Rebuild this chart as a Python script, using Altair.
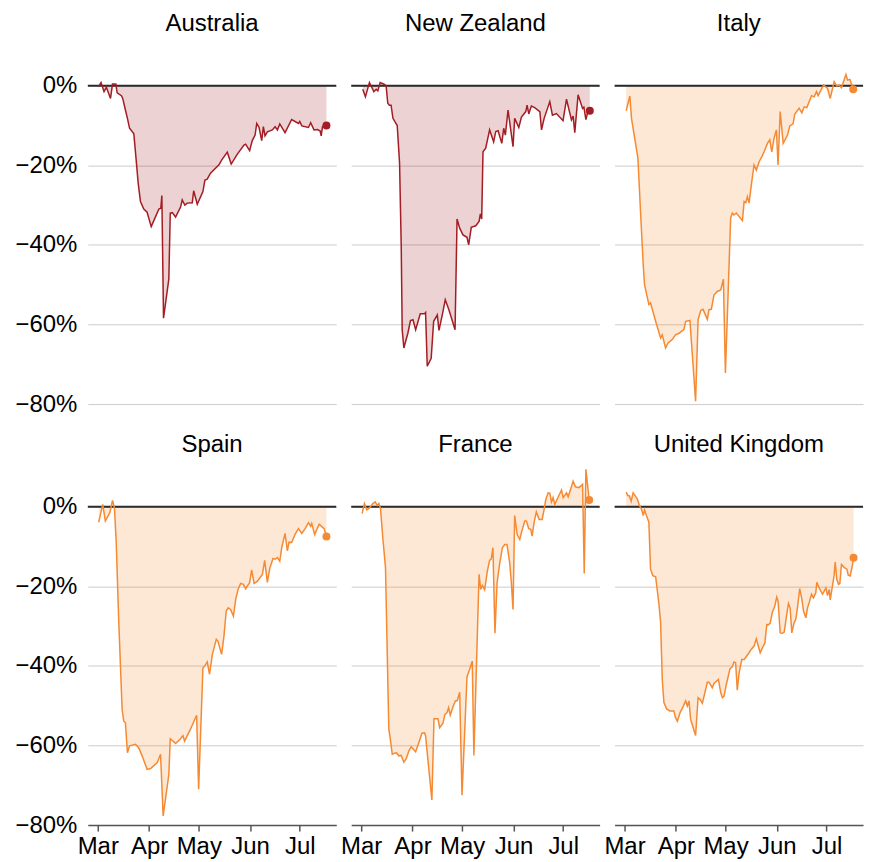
import altair as alt
import pandas as pd

COUNTRIES = ["Australia", "New Zealand", "Italy", "Spain", "France", "United Kingdom"]
COLORS = ["#a31d24", "#a31d24", "#f58a33", "#f58a33", "#f58a33", "#f58a33"]
MONTH_TICKS = [3, 4, 5, 6, 7]
Y_TICKS = [0, -0.2, -0.4, -0.6, -0.8]

# (days after 1 March 2020, % change)
AUS = [(0.6,-0.2),(2.0,0.8),(3.8,-1.5),(5.2,-0.4),(7.7,-3.2),(8.9,0.4),(10.9,0.4),(11.7,-1.8),
       (14.3,-2.5),(15.1,-3.2),(16.7,-6.1),(17.9,-8.2),(19.2,-10.7),(21.8,-12.1),(23.2,-18.7),
       (24.4,-24.5),(25.8,-29.1),(27.8,-31.0),(29.8,-31.8),(32.3,-35.4),(34.9,-32.9),(36.9,-31.0),
       (38.1,-30.8),(38.7,-27.6),(39.7,-58.4),(42.9,-48.6),(43.8,-32.0),(45.0,-31.9),(47.0,-33.0),
       (50.0,-30.5),(51.0,-28.7),(52.6,-30.0),(54.0,-29.5),(57.1,-29.4),(57.9,-26.4),(60.1,-29.8),
       (63.5,-26.6),(64.7,-23.7),(66.1,-23.5),(68.1,-22.0),(73.2,-19.9),(74.8,-18.7),(78.2,-16.7),
       (80.6,-19.7),(84.3,-17.2),(88.3,-14.9),(89.3,-14.7),(91.7,-16.3),(93.3,-13.8),(95.0,-12.4),
       (96.0,-9.5),(97.4,-10.5),(99.0,-13.8),(100.0,-10.3),(101.0,-12.6),(102.4,-11.6),(105.4,-11.1),
       (107.1,-10.3),(108.5,-11.1),(109.9,-9.6),(113.1,-11.8),(117.1,-8.5),(121.2,-9.5),(122.0,-9.0),
       (123.2,-10.1),(127.2,-10.5),(128.6,-9.3),(130.6,-11.1),(132.7,-11.0),(134.3,-11.4),
       (134.9,-12.6),(135.7,-10.3),(138.1,-10.0)]

NZL = [(1.0,-0.9),(2.6,-2.8),(5.0,0.8),(7.7,-1.5),(9.1,-0.9),(10.1,-1.3),(11.5,0.8),(14.1,0.3),
       (15.1,0.0),(16.1,-4.4),(17.1,-4.9),(18.1,-4.9),(19.2,-8.2),(21.8,-10.0),(23.2,-19.5),
       (24.2,-40.4),(24.8,-61.3),(25.8,-65.9),(28.2,-62.2),(29.8,-59.0),(31.3,-58.8),(32.9,-61.3),
       (35.7,-57.3),(38.3,-57.3),(38.9,-57.0),(39.9,-70.5),(42.3,-68.5),(43.8,-59.2),(46.0,-57.6),
       (47.0,-61.5),(49.0,-57.6),(50.8,-53.8),(53.0,-56.3),(56.7,-61.3),(57.9,-33.5),(59.5,-35.8),
       (61.5,-37.5),(63.9,-38.1),(64.9,-40.0),(66.5,-35.6),(69.2,-35.2),(71.2,-34.1),(72.0,-32.2),
       (72.8,-33.5),(73.6,-16.6),(75.2,-15.7),(77.6,-11.1),(80.0,-14.1),(81.3,-11.5),(82.7,-11.3),
       (84.9,-14.5),(86.1,-10.7),(87.1,-12.4),(88.7,-6.1),(91.7,-15.3),(92.7,-8.2),(95.2,-10.5),
       (96.8,-7.9),(99.4,-6.5),(100.2,-4.9),(101.2,-7.1),(102.8,-5.1),(104.8,-5.5),(107.9,-6.5),
       (108.9,-11.1),(110.5,-8.2),(113.9,-4.0),(115.5,-7.4),(117.9,-7.0),(121.9,-8.8),(124.0,-3.4),
       (127.0,-8.6),(128.0,-7.6),(129.0,-11.8),(131.0,-2.3),(133.7,-5.7),(134.5,-5.4),(135.7,-8.5),
       (136.7,-6.9),(138.1,-6.3)]

ITA = [(1.0,-6.3),(3.2,-2.6),(4.2,-8.2),(8.1,-18.2),(9.7,-32.0),(11.3,-45.0),(12.1,-50.0),
       (14.7,-55.0),(15.7,-54.6),(18.8,-59.2),(21.8,-63.4),(22.8,-62.6),(24.8,-65.9),(26.2,-64.7),
       (28.8,-63.8),(30.8,-62.6),(32.9,-62.2),(35.9,-61.2),(36.9,-59.2),(39.5,-59.0),(42.9,-79.3),
       (44.4,-58.8),(46.0,-56.5),(47.4,-56.2),(50.0,-58.7),(51.0,-56.3),(52.4,-56.2),(54.0,-52.6),
       (56.0,-51.7),(58.1,-51.3),(59.7,-48.6),(60.9,-72.2),(64.1,-33.3),(65.1,-32.0),(66.1,-32.5),
       (67.5,-32.0),(71.2,-33.9),(72.2,-29.1),(73.2,-29.4),(74.2,-27.9),(75.2,-29.5),(76.6,-24.9),
       (78.2,-19.9),(79.6,-21.2),(81.3,-19.1),(82.9,-17.8),(84.3,-16.6),(86.3,-14.5),(87.7,-13.6),
       (88.9,-16.6),(90.3,-13.2),(91.7,-11.1),(92.7,-19.9),(94.0,-6.5),(95.8,-14.5),(98.4,-12.4),
       (99.8,-10.1),(101.8,-9.6),(102.8,-7.1),(105.4,-5.7),(107.1,-6.8),(108.5,-5.3),(110.1,-5.5),
       (112.9,-2.5),(114.5,-2.8),(115.9,-1.5),(116.9,-2.5),(120.2,0.2),(122.6,-0.7),(124.2,-3.2),
       (126.6,1.0),(128.2,-0.1),(129.6,0.2),(131.0,-0.5),(133.7,2.8),(134.7,1.4),(136.1,1.6),
       (138.1,-0.9)]

ESP = [(0.6,-3.9),(3.0,0.6),(4.6,-3.6),(7.3,-1.5),(8.9,1.6),(10.1,-0.3),(11.1,-8.2),(12.7,-29.1),
       (14.7,-50.9),(15.7,-53.9),(16.7,-54.3),(17.9,-61.8),(19.2,-60.1),(20.8,-59.9),(22.8,-59.7),
       (24.8,-60.6),(26.8,-62.6),(29.8,-66.0),(31.9,-65.8),(35.9,-64.3),(37.9,-62.2),(39.5,-77.7),
       (42.9,-67.3),(43.8,-58.3),(45.4,-58.9),(47.0,-59.5),(50.0,-58.3),(51.4,-57.5),(52.4,-58.9),
       (56.0,-55.9),(58.1,-53.9),(59.7,-52.4),(60.9,-71.0),(63.5,-40.5),(64.7,-40.0),(66.1,-39.0),
       (67.5,-42.1),(69.2,-37.1),(71.6,-33.3),(72.6,-33.8),(74.8,-37.1),(76.2,-32.5),(77.6,-26.2),
       (78.8,-25.4),(80.2,-25.8),(81.9,-27.5),(83.3,-23.3),(84.7,-20.8),(86.3,-19.3),(87.9,-19.5),
       (89.3,-20.6),(91.7,-19.1),(92.9,-15.9),(94.4,-19.3),(96.4,-18.7),(99.4,-17.0),(100.8,-13.5),
       (102.4,-19.0),(103.8,-15.6),(105.8,-13.0),(107.1,-13.2),(108.5,-12.8),(109.9,-13.7),
       (111.1,-10.3),(113.1,-6.7),(114.5,-11.1),(115.5,-8.9),(117.1,-9.0),(119.2,-6.9),(121.2,-5.5),
       (123.2,-6.7),(125.2,-5.5),(127.2,-4.0),(128.6,-4.9),(129.2,-4.2),(131.0,-7.0),(132.7,-5.3),
       (133.7,-4.4),(135.3,-5.0),(136.7,-5.5),(138.1,-7.5)]

FRA = [(0.6,-1.7),(2.0,0.8),(3.4,-0.8),(5.0,-0.3),(7.1,0.8),(8.5,1.2),(9.7,0.3),(10.7,0.8),
       (11.7,-0.5),(13.1,-7.8),(14.7,-15.3),(16.7,-55.9),(17.5,-58.0),(18.8,-62.2),(21.2,-61.8),
       (22.8,-62.6),(24.2,-62.5),(25.8,-64.2),(27.2,-63.3),(28.8,-61.4),(30.2,-60.3),(31.7,-61.0),
       (32.9,-61.6),(34.5,-59.7),(36.7,-56.9),(38.3,-56.8),(38.9,-57.6),(42.7,-73.7),(44.0,-53.3),
       (46.4,-53.3),(47.4,-55.5),(49.4,-54.4),(50.6,-52.2),(51.8,-51.8),(52.8,-50.5),(53.8,-52.4),
       (55.4,-50.3),(56.9,-48.8),(58.1,-48.7),(59.5,-46.6),(60.9,-72.5),(63.9,-42.7),(65.5,-40.9),
       (67.1,-38.8),(68.1,-62.5),(71.2,-17.0),(72.2,-20.8),(73.2,-19.8),(74.6,-20.9),(76.2,-16.2),
       (77.6,-13.5),(78.6,-13.1),(79.6,-10.3),(80.8,-31.8),(82.1,-19.1),(83.7,-14.1),(85.3,-10.3),
       (86.7,-9.5),(88.1,-9.5),(89.7,-14.1),(90.7,-19.1),(91.7,-25.8),(92.7,-2.2),(94.2,-7.0),
       (95.8,-8.2),(96.8,-6.5),(98.8,-3.6),(99.8,-3.6),(101.2,-5.5),(102.4,-5.7),(103.2,-7.4),
       (104.6,-3.6),(105.8,-1.3),(107.5,-3.2),(109.3,-3.2),(110.3,-1.1),(111.5,1.8),(112.9,3.5),
       (113.9,3.4),(114.9,1.2),(115.9,2.3),(116.9,0.6),(118.5,2.0),(121.0,4.2),(122.0,2.3),
       (124.0,3.5),(125.0,2.5),(126.6,4.5),(128.0,6.4),(129.4,5.0),(131.5,4.8),(133.7,5.6),
       (134.7,-16.8),(135.7,9.4),(137.7,1.7)]

GBR = [(1.0,3.7),(2.0,2.8),(3.0,2.7),(4.0,1.4),(5.2,3.5),(7.7,2.0),(8.7,0.6),(10.3,-0.7),
       (11.3,-2.2),(12.1,-0.8),(13.3,-2.3),(14.7,-3.9),(15.7,-15.7),(17.1,-17.3),(18.8,-17.6),
       (20.8,-24.5),(21.8,-29.1),(22.8,-43.4),(23.8,-49.2),(25.4,-50.8),(27.4,-51.3),(29.8,-51.3),
       (30.8,-53.0),(31.9,-53.9),(33.5,-51.8),(35.5,-50.1),(36.9,-48.8),(37.9,-50.1),(38.9,-48.8),
       (39.9,-53.4),(42.9,-57.5),(44.4,-48.0),(45.6,-48.4),(47.0,-49.4),(50.0,-44.1),(51.0,-44.1),
       (53.0,-45.5),(54.0,-44.4),(56.7,-43.4),(58.1,-46.7),(59.1,-48.0),(60.1,-47.6),(61.5,-44.6),
       (63.7,-40.7),(65.1,-40.2),(66.1,-39.0),(67.1,-39.2),(68.1,-46.1),(69.2,-41.7),(70.8,-38.4),
       (72.2,-38.4),(73.8,-37.5),(75.2,-36.7),(76.6,-35.8),(78.2,-35.0),(79.6,-33.2),(81.9,-36.7),
       (83.3,-35.4),(84.7,-34.3),(85.9,-29.6),(86.7,-29.7),(87.9,-29.3),(89.3,-26.5),(90.7,-25.0),
       (91.9,-22.7),(92.7,-23.7),(94.0,-31.7),(95.4,-31.8),(96.4,-31.5),(97.8,-27.5),(99.0,-24.3),
       (100.0,-25.4),(101.0,-31.7),(102.4,-29.1),(103.4,-28.3),(104.4,-25.4),(105.8,-20.6),
       (107.1,-23.3),(108.1,-26.2),(109.5,-27.9),(110.5,-25.4),(111.5,-24.1),(112.9,-22.0),
       (114.1,-22.9),(115.5,-21.6),(116.1,-19.0),(117.5,-20.4),(119.6,-22.0),(121.6,-20.4),
       (122.6,-22.3),(123.6,-20.8),(124.2,-23.4),(125.6,-19.8),(126.6,-17.2),(127.2,-13.9),
       (128.2,-18.3),(129.2,-19.5),(130.0,-19.3),(131.0,-14.5),(132.7,-15.3),(134.3,-15.7),
       (135.1,-17.2),(136.3,-17.4),(137.7,-14.5),(138.3,-12.8)]

SERIES = {"Australia": AUS, "New Zealand": NZL, "Italy": ITA,
          "Spain": ESP, "France": FRA, "United Kingdom": GBR}

START = pd.Timestamp("2020-03-01")


def frame(country):
    pts = SERIES[country]
    rows = []
    for i, (d, v) in enumerate(pts):
        t = START + pd.Timedelta(hours=round(d * 24))
        rows.append({"country": country,
                     "date": t.strftime("%Y-%m-%dT%H:%M:%S"),
                     "value": v / 100.0,
                     "last": i == len(pts) - 1})
    return pd.DataFrame(rows)


FONT = "Liberation Sans"
PANEL_W = 249
PANEL_H = 359
X_SCALE = alt.Scale(domain=[alt.DateTime(year=2020, month=2, date=24),
                            alt.DateTime(year=2020, month=7, date=23)])
Y_SCALE = alt.Scale(domain=[-0.8, 0.1], nice=False, zero=False)


def panel(idx):
    country = COUNTRIES[idx]
    color = COLORS[idx]
    col, row = idx % 3, idx // 3
    if row == 1:
        x_axis = alt.Axis(values=[alt.DateTime(year=2020, month=m, date=1) for m in MONTH_TICKS],
                          format="%b", title=None, grid=False, domainColor="#555",
                          domainWidth=1.5, tickColor="#555", tickSize=6, tickWidth=1.5,
                          labelPadding=3, labelFontSize=24, labelColor="#000", labelFont=FONT)
        x_enc = alt.X("date:T", scale=X_SCALE, axis=x_axis)
    else:
        x_enc = alt.X("date:T", scale=X_SCALE, axis=None)
    y_axis = alt.Axis(values=Y_TICKS, format=".0%", title=None, grid=True, gridColor="#cccccc",
                      gridWidth=1, ticks=False, tickSize=0, domain=False, labelPadding=11,
                      labels=(col == 0), labelFontSize=24, labelColor="#000", labelFont=FONT)
    y_enc = alt.Y("value:Q", scale=Y_SCALE, axis=y_axis)

    base = alt.Chart(frame(country))
    area = base.mark_area(opacity=0.2, color=color).encode(x=x_enc, y=y_enc, y2=alt.datum(0))
    zero = base.transform_filter("datum.last").mark_rule(color="#2b2b2b", strokeWidth=2).encode(
        y=alt.datum(0))
    line = base.mark_line(strokeWidth=1.5, color=color).encode(x=x_enc, y=y_enc)
    dot = base.transform_filter("datum.last").mark_circle(size=64, opacity=1, color=color).encode(
        x=x_enc, y=y_enc)
    title = base.transform_filter("datum.last").mark_text(
        fontSize=24, font=FONT, color="#000", align="center", baseline="alphabetic"
    ).encode(text="country:N", x=alt.value(PANEL_W / 2), y=alt.value(-15))
    return alt.layer(area, zero, line, dot, title).properties(
        width=PANEL_W, height=PANEL_H,
        view=alt.ViewBackground(stroke="transparent", strokeWidth=0),
    )


chart = alt.concat(
    *[panel(i) for i in range(6)],
    columns=3,
    spacing={"row": 63, "column": 15},
    bounds="flush",
).properties(
    padding={"top": 3, "left": 6, "right": 0, "bottom": 5},
).configure(font=FONT).configure_view(strokeWidth=0, stroke="transparent")

chart.save("out.html", embed_options={"renderer": "svg", "actions": False})
